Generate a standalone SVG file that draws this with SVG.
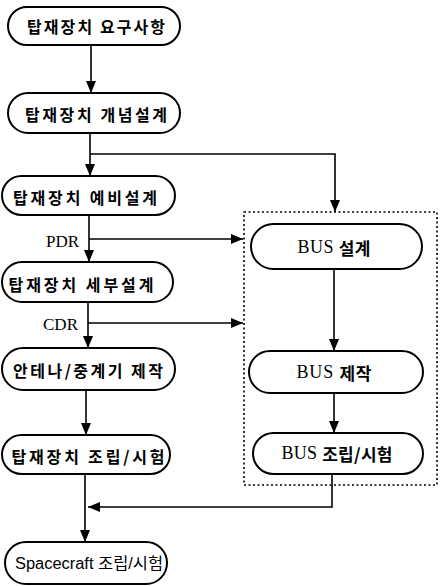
<svg xmlns="http://www.w3.org/2000/svg" width="440" height="586" viewBox="0 0 440 586">
<style>
.box{fill:#fff;stroke:#000;stroke-width:2}
.ko{font-family:"Noto Sans CJK KR","Noto Sans",sans-serif;font-weight:700;font-size:16px;fill:#000}
.bus{font-family:"Liberation Serif","Noto Sans CJK KR",serif;font-size:18px;fill:#000}
.bus .k{font-family:"Noto Sans CJK KR",sans-serif;font-weight:700;font-size:17px}
.lbl{font-family:"Liberation Serif",serif;font-size:17px;fill:#000}
.sc{font-family:"Liberation Sans","Noto Sans CJK KR",sans-serif;font-size:16px;fill:#000}
.ln{fill:none;stroke:#000;stroke-width:1.6}
.dot{fill:none;stroke:#000;stroke-width:1.6;stroke-dasharray:2 2.5}
</style>
<defs>
<marker id="ah" viewBox="0 0 12 10" refX="12" refY="5" markerWidth="12" markerHeight="10" markerUnits="userSpaceOnUse" orient="auto">
<path d="M0,0 L12,5 L0,10 z" fill="#000"/>
</marker>
</defs>

<rect class="dot" x="244" y="212" width="193" height="273"/>

<g id="connectors">
<line class="ln" x1="91" y1="45" x2="91" y2="93" marker-end="url(#ah)"/>
<line class="ln" x1="90" y1="133" x2="90" y2="176" marker-end="url(#ah)"/>
<polyline class="ln" points="90,154 335,154 335,212" marker-end="url(#ah)"/>
<line class="ln" x1="89" y1="215" x2="89" y2="262" marker-end="url(#ah)"/>
<line class="ln" x1="89" y1="239" x2="243" y2="239" marker-end="url(#ah)"/>
<line class="ln" x1="88" y1="302" x2="88" y2="348" marker-end="url(#ah)"/>
<line class="ln" x1="88" y1="323" x2="243" y2="323" marker-end="url(#ah)"/>
<line class="ln" x1="86" y1="390" x2="86" y2="435" marker-end="url(#ah)"/>
<line class="ln" x1="85" y1="474" x2="85" y2="542" marker-end="url(#ah)"/>
<polyline class="ln" points="332,474 332,507 88,507" marker-end="url(#ah)"/>
<line class="ln" x1="334" y1="269" x2="334" y2="351" marker-end="url(#ah)"/>
<line class="ln" x1="334" y1="393" x2="334" y2="433" marker-end="url(#ah)"/>
<text class="lbl" x="79" y="247" text-anchor="end">PDR</text>
<text class="lbl" x="78" y="330" text-anchor="end">CDR</text>
</g>

<g id="n1">
<rect class="box" x="8" y="7" width="172" height="38" rx="19"/>
<text class="ko" x="96" y="26" text-anchor="middle" dominant-baseline="central" textLength="138" lengthAdjust="spacing">탑재장치 요구사항</text>
</g>
<g id="n2">
<rect class="box" x="8" y="93" width="172" height="40" rx="20"/>
<text class="ko" x="96" y="114" text-anchor="middle" dominant-baseline="central" textLength="142" lengthAdjust="spacing">탑재장치 개념설계</text>
</g>
<g id="n3">
<rect class="box" x="2" y="176" width="173" height="39" rx="19.5"/>
<text class="ko" x="85" y="197" text-anchor="middle" dominant-baseline="central" textLength="144" lengthAdjust="spacing">탑재장치 예비설계</text>
</g>
<g id="n4">
<rect class="box" x="2" y="262" width="171" height="40" rx="20"/>
<text class="ko" x="81" y="284" text-anchor="middle" dominant-baseline="central" textLength="145" lengthAdjust="spacing">탑재장치 세부설계</text>
</g>
<g id="n5">
<rect class="box" x="2" y="348" width="173" height="42" rx="21"/>
<text class="ko" x="88" y="370" text-anchor="middle" dominant-baseline="central" textLength="150" lengthAdjust="spacing">안테나/중계기 제작</text>
</g>
<g id="n6">
<rect class="box" x="2" y="435" width="168" height="39" rx="19.5"/>
<text class="ko" x="88" y="456" text-anchor="middle" dominant-baseline="central" textLength="153" lengthAdjust="spacing">탑재장치 조립/시험</text>
</g>
<g id="n7">
<rect class="box" x="5" y="542" width="162" height="42" rx="21"/>
<text class="sc" x="89" y="563" text-anchor="middle" dominant-baseline="central" textLength="148" lengthAdjust="spacingAndGlyphs">Spacecraft 조립/시험</text>
</g>

<g id="b1">
<rect class="box" x="251" y="224" width="171" height="45" rx="22.5"/>
<text class="bus" x="334" y="247" text-anchor="middle" dominant-baseline="central" textLength="73" lengthAdjust="spacing">BUS <tspan class="k">설계</tspan></text>
</g>
<g id="b2">
<rect class="box" x="249" y="351" width="174" height="42" rx="21"/>
<text class="bus" x="334" y="372" text-anchor="middle" dominant-baseline="central" textLength="75" lengthAdjust="spacing">BUS <tspan class="k">제작</tspan></text>
</g>
<g id="b3">
<rect class="box" x="253" y="433" width="170" height="41" rx="20.5"/>
<text class="bus" x="337" y="453" text-anchor="middle" dominant-baseline="central" textLength="111" lengthAdjust="spacing">BUS <tspan class="k">조립/시험</tspan></text>
</g>
</svg>
